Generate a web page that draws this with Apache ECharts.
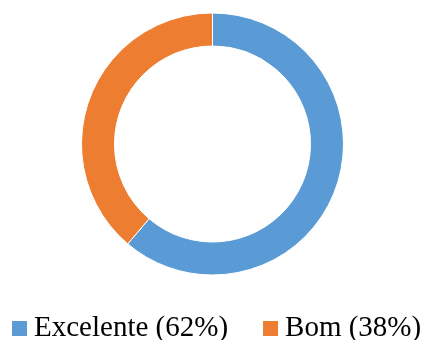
<!DOCTYPE html>
<html>
<head>
<meta charset="utf-8">
<script src="https://cdn.jsdelivr.net/npm/echarts@6/dist/echarts.min.js"></script>
<style>
html,body{margin:0;padding:0;background:#fff;}
#main{width:423px;height:340px;}
</style>
</head>
<body>
<div id="main"></div>
<script>
var categories = ['Excelente (62%)', 'Bom (38%)'];
var values = [61.2, 38.8];
var colors = ['#5B9BD5', '#ED7D31'];

var chart = echarts.init(document.getElementById('main'), null, {renderer: 'canvas'});
chart.setOption({
  animation: false,
  color: colors,
  legend: {
    data: categories,
    left: 12,
    top: 314,
    width: 440,
    padding: 0,
    itemWidth: 15,
    itemHeight: 15,
    itemGap: 35,
    icon: 'rect',
    itemStyle: {borderWidth: 0},
    textStyle: {
      fontFamily: 'Liberation Serif, Times New Roman, serif',
      fontSize: 29,
      color: '#000',
      padding: [0, 0, 0, 2]
    }
  },
  series: [{
    type: 'pie',
    center: [212.5, 144],
    radius: [98, 131],
    startAngle: 90,
    clockwise: true,
    label: {show: false},
    labelLine: {show: false},
    emphasis: {disabled: true},
    itemStyle: {borderColor: '#fff', borderWidth: 1},
    data: categories.map(function (c, i) { return {name: c, value: values[i]}; })
  }]
});
</script>
</body>
</html>
